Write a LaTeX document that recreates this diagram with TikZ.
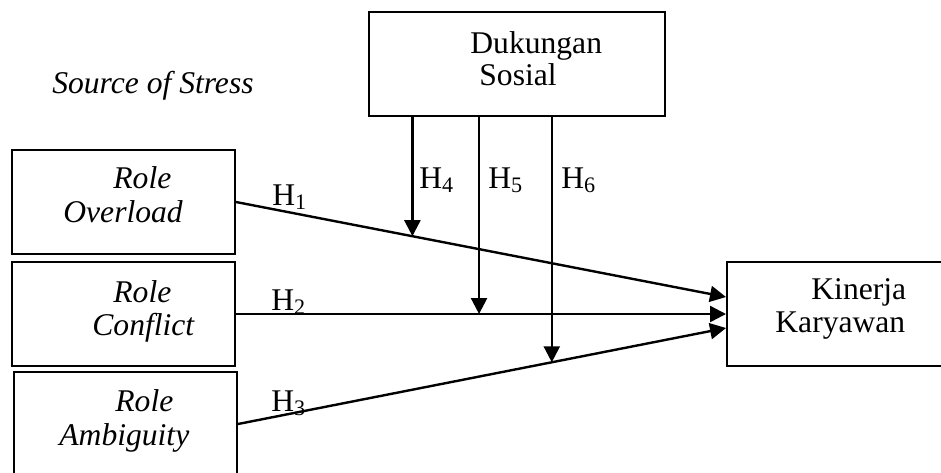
\documentclass[tikz,border=0pt]{standalone}
\usepackage{fontspec}
\setmainfont{Liberation Serif}
\usetikzlibrary{arrows.meta}
\begin{document}
\begin{tikzpicture}[x=0.5pt,y=-0.5pt,
  box/.style={draw,line width=1pt,minimum height=52pt,inner sep=0pt},
  txt/.style={anchor=base west,inner sep=0pt,font=\fontsize{15.8}{16.5}\selectfont},
  arr/.style={line width=1.2pt,-{Triangle[length=8pt,width=8pt]}}]
\useasboundingbox (0,0) rectangle (941,472);
% boxes
\node[box,minimum width=148pt] (ds) at (517,64) {};
\node[box,minimum width=111.5pt] (ro) at (123.5,202) {};
\node[box,minimum width=111.5pt] (co) at (123.5,314) {};
\node[box,minimum width=111.5pt] (amb) at (125.5,424) {};
\node[box,minimum width=115pt] (kk) at (842,314) {};
% texts
\node[txt] (ds1) at (470,53) {Dukungan};
\node[txt] (ds2) at (479,85) {Sosial};
\node[txt,anchor=base east] (src) at (254,93) {\itshape Source of Stress};
\node[txt] (ro1) at (113,188) {\itshape Role};
\node[txt] (ro2) at (63,222) {\itshape Overload};
\node[txt] (co1) at (113,302) {\itshape Role};
\node[txt] (co2) at (92,335) {\itshape Conflict};
\node[txt] (amb1) at (115,411) {\itshape Role};
\node[txt] (amb2) at (59,445) {\itshape Ambiguity};
\node[txt] (kk1) at (811,299) {Kinerja};
\node[txt] (kk2) at (775,332) {Karyawan};
% hypotheses
\draw[arr] (ro.east) -- coordinate[pos=0.36] (m4) ([yshift=8.5pt]kk.west);
\draw[arr] (co.east) -- coordinate[pos=0.496] (m5) (kk.west);
\draw[arr] (amb.east) -- coordinate[pos=0.643] (m6) ([yshift=-7pt]kk.west);
\draw[arr] (ds.south -| m4) -- (m4);
\draw[arr] (ds.south -| m5) -- (m5);
\draw[arr] (ds.south -| m6) -- (m6);
\node[txt] (h1) at (272,205) {H\textsubscript{1}};
\node[txt] (h2) at (271,310) {H\textsubscript{2}};
\node[txt] (h3) at (271,411) {H\textsubscript{3}};
\node[txt] (h4) at (419,188) {H\textsubscript{4}};
\node[txt] (h5) at (488,188) {H\textsubscript{5}};
\node[txt] (h6) at (561,188) {H\textsubscript{6}};
\end{tikzpicture}
\end{document}
